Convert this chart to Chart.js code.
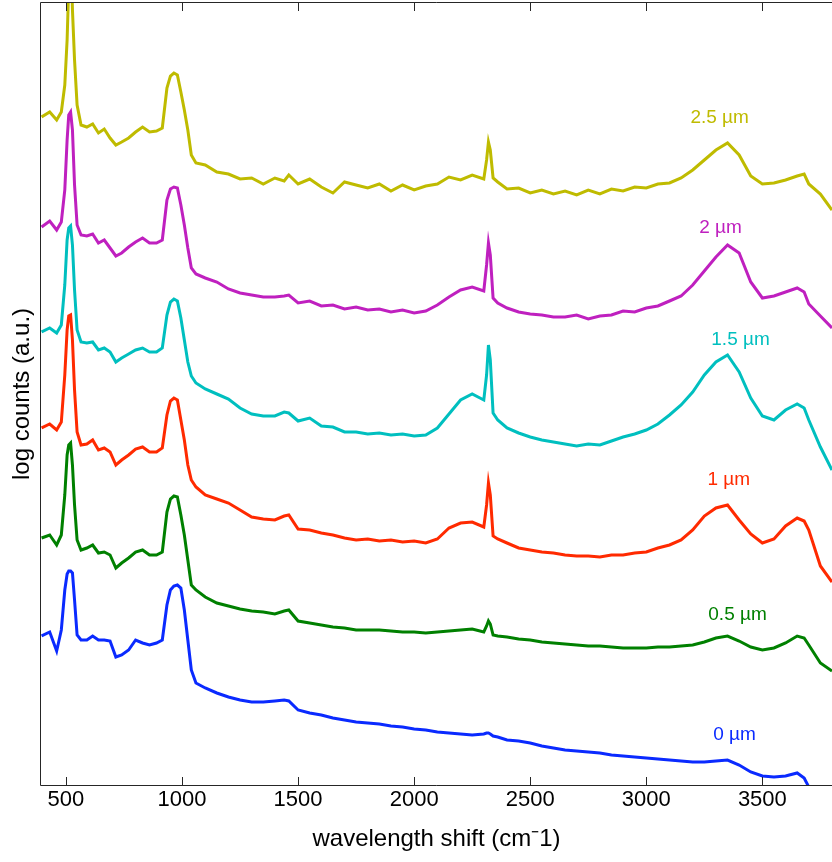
<!DOCTYPE html>
<html>
<head>
<meta charset="utf-8">
<script src="https://cdn.jsdelivr.net/npm/chart.js@4.4.1/dist/chart.umd.min.js"></script>
<style>
  html, body { margin: 0; padding: 0; background: #fff; }
  canvas { display: block; }
</style>
</head>
<body>
<canvas id="raman" width="832" height="862"></canvas>
<script>
// ─────────────────────────────────────────────
//  Raman spectra by depth (stacked, log counts a.u.)
// ─────────────────────────────────────────────
const shift = [
  395, 430, 460, 480, 495, 505, 512, 520, 528, 537,
  548, 565, 590, 615, 640, 665, 690, 715, 740, 770,
  800, 830, 860, 890, 915, 935, 950, 965, 980, 995,
  1010, 1025, 1040, 1060, 1100, 1150, 1200, 1250, 1300, 1350,
  1400, 1440, 1460, 1500, 1550, 1600, 1650, 1700, 1750, 1800,
  1850, 1900, 1950, 2000, 2050, 2100, 2150, 2200, 2250, 2300,
  2312, 2320, 2328, 2340, 2360, 2400, 2450, 2500, 2550, 2600,
  2650, 2700, 2750, 2800, 2850, 2900, 2950, 3000, 3050, 3100,
  3150, 3200, 3250, 3300, 3350, 3400, 3450, 3500, 3550, 3600,
  3650, 3680, 3700, 3750, 3800,
];

const depth0 = [
  149, 153, 134, 155, 195, 211, 214, 214, 212, 185,
  150, 145, 145, 149, 145, 145, 144, 128, 130, 135,
  145, 142, 140, 142, 145, 180, 195, 199, 200, 197,
  175, 145, 115, 102, 97, 92, 88, 85, 83, 83,
  84, 85, 84, 75, 72, 70, 67, 65, 63, 62,
  61, 59, 58, 56, 55, 53, 52, 51, 50, 51,
  52, 52, 51, 49, 48, 45, 44, 42, 39, 37,
  35, 34, 33, 32, 30, 29, 28, 27, 26, 25,
  24, 23, 23, 24, 25, 20, 13, 9, 8, 9,
  12, 7, -2, null, null,
];

const depth05 = [
  247, 250, 240, 250, 290, 330, 340, 342, 320, 280,
  245, 235, 237, 240, 232, 233, 230, 217, 222, 227,
  233, 235, 230, 230, 233, 273, 286, 289, 288, 270,
  250, 225, 200, 195, 188, 182, 179, 176, 174, 173,
  171, 174, 175, 164, 162, 160, 158, 157, 155, 155,
  155, 154, 153, 153, 152, 153, 154, 155, 156, 153,
  159, 164, 161, 150, 149, 148, 146, 145, 143, 142,
  141, 140, 139, 139, 138, 137, 137, 137, 138, 138,
  139, 140, 143, 147, 149, 144, 138, 135, 137, 142,
  149, 147, 140, 122, 114,
];

const depth1 = [
  357, 361, 355, 363, 410, 455, 469, 470, 445, 395,
  353, 340, 341, 345, 335, 337, 333, 320, 325, 330,
  336, 338, 333, 333, 337, 370, 384, 387, 385, 365,
  345, 320, 305, 298, 290, 286, 282, 275, 268, 266,
  265, 269, 270, 256, 255, 252, 250, 247, 245, 246,
  244, 245, 243, 244, 242, 246, 257, 262, 263, 258,
  280, 302, 290, 249, 246, 242, 237, 235, 233, 232,
  230, 229, 229, 228, 230, 230, 232, 233, 237, 240,
  245, 255, 269, 277, 280, 265, 251, 242, 246, 259,
  267, 264, 255, 219, 203,
];

const depth15 = [
  453, 457, 452, 460, 500, 545, 557, 559, 540, 495,
  455, 443, 442, 443, 435, 437, 433, 423, 427, 431,
  435, 437, 433, 433, 437, 470, 483, 486, 484, 467,
  445, 423, 409, 402, 396, 391, 386, 377, 371, 369,
  369, 373, 372, 364, 367, 359, 358, 353, 353, 351,
  352, 350, 351, 349, 350, 357, 371, 385, 391, 385,
  410, 440, 425, 372, 365, 357, 352, 348, 345, 343,
  341, 339, 341, 340, 344, 348, 351, 355, 361, 370,
  380, 393, 410, 423, 430, 413, 387, 369, 365, 375,
  381, 377, 365, 338, 315,
];

const depth2 = [
  558, 564, 555, 563, 595, 645, 670, 673, 655, 600,
  560, 550, 549, 551, 542, 545, 537, 529, 532, 538,
  543, 547, 542, 542, 545, 585, 596, 598, 597, 580,
  560, 537, 517, 511, 507, 503, 496, 492, 490, 488,
  488, 489, 490, 482, 484, 479, 480, 476, 478, 475,
  476, 473, 475, 472, 474, 480, 488, 495, 498, 494,
  520, 542, 530, 487, 482, 477, 473, 471, 470, 468,
  468, 470, 466, 469, 470, 474, 473, 477, 479, 484,
  489, 500, 514, 528, 540, 532, 503, 487, 489, 493,
  497, 493, 481, 469, 457,
];

const depth25 = [
  668, 673, 665, 673, 700, 745, 800, 845, 775, 725,
  680, 660, 658, 661, 652, 656, 647, 640, 643, 647,
  653, 658, 653, 654, 657, 697, 709, 712, 710, 693,
  675, 655, 630, 622, 620, 613, 611, 606, 607, 601,
  607, 604, 610, 601, 606, 598, 592, 603, 600, 597,
  601, 594, 600, 595, 599, 601, 608, 605, 610, 606,
  625, 643, 635, 607, 603, 596, 597, 592, 595, 591,
  594, 590, 595, 591, 596, 594, 598, 597, 601, 602,
  607, 615, 625, 635, 642, 630, 609, 601, 602, 605,
  609, 611, 601, 591, 575,
];

const depthNames  = ['0 \u00b5m', '0.5 \u00b5m', '1 \u00b5m', '1.5 \u00b5m', '2 \u00b5m', '2.5 \u00b5m'];
const depthColors = ['#0a2aff', '#008000', '#ff2a00', '#00bfbf', '#bf20bf', '#bfbb00'];
const labelShift  = [3380, 3393, 3355, 3406, 3320, 3316];
const labelLevel  = [50, 170, 305, 445, 557, 667];
const xTicks      = [500, 1000, 1500, 2000, 2500, 3000, 3500];

const series = [depth0, depth05, depth1, depth15, depth2, depth25];
const FONT = '"Liberation Sans", Arial, sans-serif';

// box + inward ticks, top and bottom
const frame = {
  id: 'frame',
  afterDatasetsDraw(chart) {
    const { ctx, chartArea: a, scales: { x } } = chart;
    ctx.save();
    ctx.strokeStyle = '#262626';
    ctx.lineWidth = 1;
    ctx.beginPath();
    ctx.moveTo(a.left - 0.5, a.bottom + 0.5);
    ctx.lineTo(a.left - 0.5, a.top - 0.5);
    ctx.lineTo(a.right + 1, a.top - 0.5);
    ctx.moveTo(a.left - 0.5, a.bottom + 0.5);
    ctx.lineTo(a.right + 1, a.bottom + 0.5);
    x.ticks.forEach(t => {
      const px = Math.round(x.getPixelForValue(t.value)) + 0.5;
      ctx.moveTo(px, a.bottom);
      ctx.lineTo(px, a.bottom - 8);
      ctx.moveTo(px, a.top);
      ctx.lineTo(px, a.top + 8);
    });
    ctx.stroke();
    ctx.restore();
  },
};

const depthLabels = {
  id: 'depthLabels',
  afterDatasetsDraw(chart) {
    const { ctx, scales: { x, y } } = chart;
    ctx.save();
    ctx.font = '19px ' + FONT;
    ctx.textAlign = 'center';
    ctx.textBaseline = 'middle';
    depthNames.forEach((name, i) => {
      ctx.fillStyle = depthColors[i];
      ctx.fillText(name, x.getPixelForValue(labelShift[i]), y.getPixelForValue(labelLevel[i]));
    });
    ctx.restore();
  },
};

new Chart(document.getElementById('raman'), {
  type: 'line',
  data: {
    labels: shift,
    datasets: series.map((vals, i) => ({
      label: depthNames[i],
      data: vals.map((v, k) => ({ x: shift[k], y: v })),
      borderColor: depthColors[i],
      borderWidth: 3,
      pointRadius: 0,
      tension: 0,
      fill: false,
    })),
  },
  options: {
    responsive: false,
    animation: false,
    events: [],
    layout: { padding: { top: 3, right: 0, left: 0, bottom: 0 } },
    plugins: { legend: { display: false }, tooltip: { enabled: false } },
    scales: {
      x: {
        type: 'linear',
        min: 392.5,
        max: 3800,
        afterBuildTicks: s => { s.ticks = xTicks.map(v => ({ value: v })); },
        afterFit: s => { s.height = 77; },
        grid: { display: false, drawTicks: false },
        border: { display: false },
        ticks: {
          color: '#000',
          padding: 2,
          maxRotation: 0,
          font: { family: FONT, size: 22 },
          callback: v => String(v),
        },
        title: {
          display: true,
          text: 'wavelength shift (cm\u207b1)',
          color: '#000',
          padding: { top: 0, bottom: 8 },
          font: { family: FONT, size: 24 },
        },
      },
      y: {
        min: 0,
        max: 782,
        afterFit: s => { s.width = 41; },
        grid: { display: false, drawTicks: false },
        border: { display: false },
        ticks: { display: false },
        title: {
          display: true,
          text: 'log counts (a.u.)',
          color: '#000',
          padding: { top: 8, bottom: 0 },
          font: { family: FONT, size: 24 },
        },
      },
    },
  },
  plugins: [frame, depthLabels],
});
</script>
</body>
</html>
